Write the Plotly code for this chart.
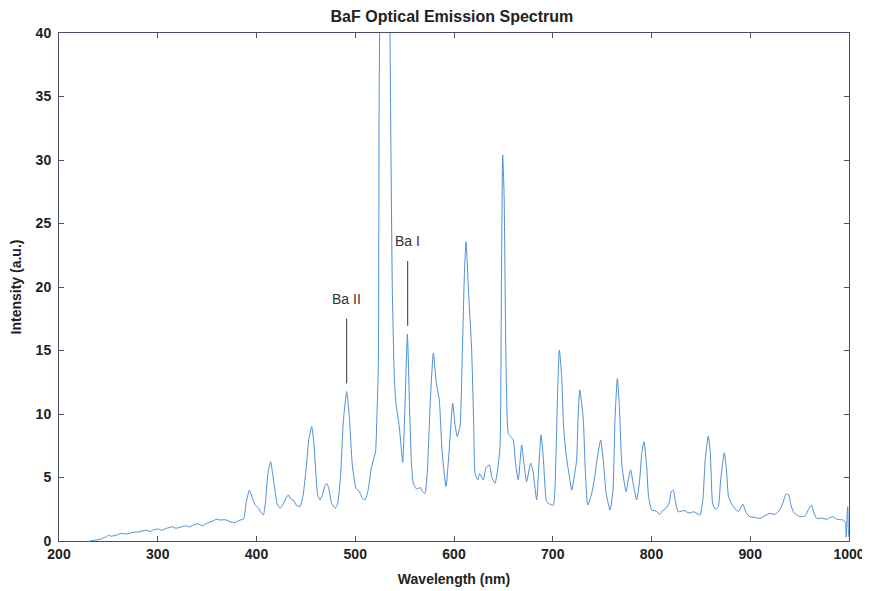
import plotly.graph_objects as go

# Spectrum (wavelength in nm, intensity in a.u.)
wavelength = [
    231, 236, 241.5, 245, 248.3, 250, 253, 258.4, 263, 268.6, 275, 282, 288, 292, 295.5,
    300, 304, 309, 315, 318, 322.5, 328, 332, 336, 341, 345, 349.6, 355, 360, 363, 368,
    373.2, 378, 383.3, 387, 389.5, 392.7, 395, 398.5, 402, 404, 406.9, 409, 411.5, 414.3,
    416.5, 418.7, 421, 423.8, 427, 430, 432.2, 435, 437.3, 440, 444, 447, 450, 453, 455.9,
    458, 460, 462, 464.3, 467, 469, 471.1, 473, 476, 479.5, 482, 485, 488, 491.3, 494,
    497, 500.8, 504, 507, 509.9, 513, 516, 518.3, 520.5, 522, 523.4, 524.2, 526, 530, 534,
    536, 537.5, 539.5, 541, 544.6, 548, 550.5, 552.8, 555, 557, 558.8, 562, 566, 568, 570.6,
    573, 576, 579.1, 582, 585.1, 588, 591.9, 595, 598.7, 601, 603.3, 606, 608.5, 610.5,
    612.2, 614.5, 617.9, 620, 621.3, 624, 626, 629.7, 632.5, 635.8, 638.5, 641.5, 644,
    646.6, 648, 649.3, 650.8, 652.5, 655, 657.5, 660, 662.5, 665.1, 668.5, 671, 673.5,
    677.6, 680, 683.7, 686, 688.1, 690.5, 693.8, 697, 700.6, 703, 705, 706.7, 709, 711,
    713.4, 716, 719.2, 722, 724.2, 725.6, 727.3, 729.5, 731, 733, 735.4, 739, 742, 745,
    748.5, 751, 754, 758, 761, 763, 765.4, 767.5, 770, 774.2, 776.5, 778.9, 781.5, 785,
    788, 790, 792.4, 795, 797, 800.2, 805, 808, 812, 815, 818, 820, 822.1, 824, 827.1,
    833, 838, 843, 849, 852, 854.5, 857.5, 859.5, 861.9, 864.5, 867.6, 870, 873.7, 876,
    878, 882, 888, 892.3, 896, 899.7, 905, 909.9, 915, 920, 925, 930, 933, 936.2, 939,
    941, 943.6, 948, 952.1, 956, 959, 962.2, 964.5, 967.3, 972, 977.4, 981, 984.2, 988,
    994.3, 996.5, 997.2, 998, 998.7, 999.3, 1000,
]
intensity = [
    0.0, 0.05, 0.13, 0.25, 0.34, 0.45, 0.38, 0.47, 0.6, 0.55, 0.68, 0.73, 0.85, 0.75, 0.87,
    0.95, 0.85, 1.0, 1.12, 1.0, 1.08, 1.2, 1.1, 1.26, 1.35, 1.2, 1.39, 1.55, 1.72, 1.65, 1.68,
    1.52, 1.45, 1.65, 1.75, 3.0, 4.0, 3.6, 2.83, 2.6, 2.3, 2.05, 3.0, 5.3, 6.25,
    5.2, 4.0, 2.9, 2.57, 2.9, 3.4, 3.62, 3.3, 3.23, 2.85, 2.7, 3.5, 5.5, 8.0, 9.0,
    7.8, 5.5, 3.6, 3.23, 3.7, 4.3, 4.54, 4.2, 3.0, 2.57, 2.9, 5.0, 9.5, 11.76, 9.8,
    6.0, 4.15, 3.9, 3.4, 3.23, 4.0, 5.6, 6.38, 7.0, 10.0, 14, 35, 50, 62, 50,
    32, 20, 13, 11, 9.0, 6.2, 11, 16.3, 10.5, 6.0, 4.54, 4.1, 4.2, 3.9, 3.75,
    5.5, 11, 14.8, 12.5, 11.1, 7.0, 4.28, 7.0, 10.84, 9.2, 8.21, 9.0, 15, 21,
    23.57, 20, 15.0, 9, 5.33, 4.8, 5.3, 4.8, 5.8, 5.98, 5.0, 4.54, 5.5,
    7.43, 20, 30.4, 27, 15, 8.48, 8.2, 7.95, 6.0, 4.8, 7.56, 6.0, 4.67,
    6.12, 5.5, 3.23, 6.0, 8.35, 6.5, 3.1, 2.9, 2.83, 6.0, 12, 15.04, 13, 9.0,
    6.9, 5.5, 4.0, 5.2, 6.38, 9.5, 11.9, 10.7, 9.5, 5.5, 2.83, 3.6, 4.8, 6.5,
    7.95, 6.5, 3.8, 2.44, 4.0, 9.5, 12.8, 10.5, 6.0, 3.88, 4.8, 5.6, 4.5, 3.23,
    4.8, 6.8, 7.82, 6.0, 3.5, 2.44, 2.35, 2.1, 2.44, 2.6, 3.0, 3.9, 4.0, 3.2, 2.3,
    2.4, 2.2, 2.3, 2.05, 3.23, 6.5, 8.27, 7.0, 2.97, 2.5, 2.7, 4.8, 6.95, 5.5,
    3.49, 2.8, 2.3, 2.91, 2.2, 1.91, 1.85, 1.78, 2.0, 2.17, 2.1, 2.44, 3.0, 3.7, 3.62,
    2.9, 2.3, 2.0, 1.91, 2.0, 2.5, 2.83, 2.2, 1.78, 1.8, 1.71, 1.85, 1.91, 1.7,
    1.65, 1.39, 0.3, 2.0, 2.7, 1.0, 0.3,
]

# Line labels
label_text = ["Ba II", "Ba I"]
label_wavelength = [491.3, 553.1]
label_peak = [11.76, 16.3]

x_ticks = [200, 300, 400, 500, 600, 700, 800, 900, 1000]
y_ticks = [0, 5, 10, 15, 20, 25, 30, 35, 40]

FONT = "Liberation Sans, Arial, sans-serif"

fig = go.Figure()
fig.add_trace(go.Scatter(
    x=wavelength, y=intensity, mode="lines",
    line=dict(color="#4a8fd8", width=1, shape="spline", smoothing=0.5),
    showlegend=False, hoverinfo="x+y",
))

shapes = []
annotations = []
for txt, wl, pk in zip(label_text, label_wavelength, label_peak):
    shapes.append(dict(type="line", xref="x", yref="y", x0=wl, x1=wl,
                       y0=pk + 0.65, y1=pk + 5.75,
                       line=dict(color="#333333", width=1)))
    annotations.append(dict(x=wl, y=pk + 7.3, xref="x", yref="y", text=txt,
                            showarrow=False, font=dict(family=FONT, size=14, color="#333333")))

axis_common = dict(
    showline=True, mirror="ticks", linecolor="#4d4d66", linewidth=1,
    ticks="inside", ticklen=5, tickcolor="#4d4d66", showgrid=False, zeroline=False,
    tickfont=dict(family=FONT, size=14, color="#222222"), automargin=False,
)

# The page body adds an 8px margin, so the figure is sized to fill the rest of the window.
fig.update_layout(
    width=862, height=583,
    margin=dict(l=51, r=21, t=25, b=50),
    paper_bgcolor="white", plot_bgcolor="white",
    title=dict(text="<b>BaF Optical Emission Spectrum</b>", x=0.515, xanchor="center",
               y=0.985, yanchor="middle",
               font=dict(family=FONT, size=16, color="#222222")),
    xaxis=dict(range=[200, 1000], tickvals=x_ticks,
               ticktext=[f"<b>{v}</b>" for v in x_ticks],
               title=dict(text="<b>Wavelength (nm)</b>", standoff=13,
                          font=dict(family=FONT, size=14, color="#222222")),
               **axis_common),
    yaxis=dict(range=[0, 40], tickvals=y_ticks,
               ticktext=[f"<b>{v}</b>" for v in y_ticks],
               ticklabelstandoff=4,
               title=dict(text="<b>Intensity (a.u.)</b>", standoff=15,
                          font=dict(family=FONT, size=14, color="#222222")),
               **axis_common),
    shapes=shapes, annotations=annotations,
)

fig.write_html("out.html")
